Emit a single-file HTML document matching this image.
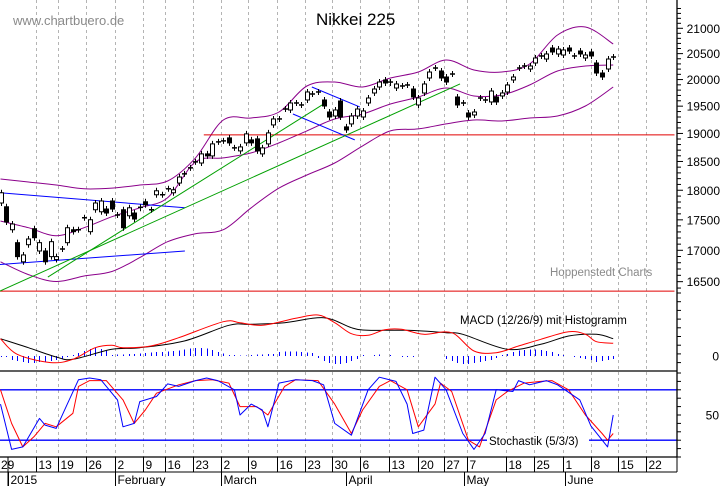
<!DOCTYPE html>
<html><head><meta charset="utf-8"><style>
html,body{margin:0;padding:0;background:#fff;}
svg{display:block;font-family:"Liberation Sans",sans-serif;}
</style></head><body>
<svg id="chart" width="723" height="486" viewBox="0 0 723 486" xmlns="http://www.w3.org/2000/svg">
<rect x="0" y="0" width="723" height="486" fill="#fff"/>
<g id="grid"></g>
<g id="price"></g>
<g id="macd"></g>
<g id="stoch"></g>
<g id="axes"></g>
<text x="13" y="25" font-size="13" fill="#8a8a8a">www.chartbuero.de</text>
<text x="316" y="25" font-size="17" fill="#000">Nikkei 225</text>
<text x="550" y="276" font-size="11.5" fill="#8a8a8a">Hoppenstedt Charts</text>
<text x="460" y="324" font-size="11.5" fill="#000">MACD (12/26/9) mit Histogramm</text>
<rect x="487" y="433" width="102" height="14" fill="#fff"/>
<text x="489" y="445" font-size="11.5" fill="#000">Stochastik (5/3/3)</text>
</svg>
<script>
const openP=[17783,17719,17336,17124,16815,17091,17353,16989,16989,16898,
16851,17021,17124,17336,17336,17535,17304,17669,17635,17681,
17817,17581,17669,17568,17614,17710,17804,17669,17923,17923,
18025,17957,18124,18283,18388,18493,18473,18634,18598,18848,
18866,18920,18741,18687,18830,18884,18902,18634,18812,19155,
19264,19447,19429,19559,19522,19615,19727,19765,19615,19392,
19318,19596,19119,19173,19318,19300,19559,19746,19859,19992,
19953,19840,19878,19897,19821,19522,19746,20030,20221,20164,
20049,20106,19671,19559,19374,19337,19652,19615,19578,19671,
19690,19765,19992,20221,20260,20202,20318,20454,20395,20610,
20493,20473,20610,20454,20551,20415,20532,20318,20125,20202,20434];
const closeP=[17957,17464,17431,16898,16925,17184,17205,17124,16815,17140,
16898,17021,17369,17304,17336,17535,17502,17783,17817,17614,
17681,17581,17369,17702,17514,17695,17753,17669,17991,17923,
18025,18008,18228,18283,18388,18493,18634,18598,18812,18848,
18866,18830,18741,18758,18992,18830,18687,18741,19010,19264,
19264,19447,19559,19559,19522,19765,19727,19765,19503,19300,
19429,19300,19064,19318,19447,19411,19652,19821,19953,19935,
19935,19916,19878,19897,19671,19652,19916,20144,20221,20030,
19953,20106,19522,19559,19300,19392,19652,19615,19783,19578,
19746,19897,20049,20221,20260,20260,20415,20454,20493,20532,
20590,20571,20551,20454,20493,20473,20454,20125,20049,20395,20434];
const bandIdx=[0,5,10,15,20,25,30,35,40,45,50,55,60,65,70,75,80,85,90,95,100,105,110];
const bandUpper=[18194,18142,18090,18025,18037,18090,18159,18563,19245,19282,19392,19878,19953,19859,20030,20144,20376,20183,20144,20298,20866,21026,20689];
const bandMiddle=[17480,17369,17238,17369,17552,17702,17872,18493,18563,18652,18830,19046,19264,19355,19540,19671,19840,19690,19708,19897,20164,20260,20279];
const bandLower=[16815,16612,16502,16589,16660,16882,17140,17271,17336,17702,18037,18263,18473,18776,19046,19082,19173,19245,19227,19282,19318,19503,19859];
const macdIdx=[0,3,9,13,17,20,22,27,32,40,43,47,53,57,60,63,66,69,72,76,81,85,89,93,97,102,105,107,110];
const macdVal=[173,17,-66,-33,83,107,83,100,183,343,333,307,377,410,333,223,207,263,267,217,233,50,33,100,167,243,217,143,127];
const signalIdx=[0,5,10,13,20,25,33,41,45,51,58,63,66,73,80,83,91,97,102,107,110];
const signalVal=[173,83,-10,-33,67,83,150,307,317,333,383,283,257,257,233,217,67,117,200,217,173];
const histVal=[-10,-10,-40,-50,-60,-70,-70,-60,-60,-50,
-40,-30,-10,10,30,50,70,80,70,60,
10,15,15,20,20,25,30,35,40,40,
45,50,55,65,75,80,80,75,60,40,
25,10,10,5,5,10,15,15,20,20,
40,45,45,45,40,35,30,-20,-50,-70,
-80,-80,-70,-50,-30,10,0,10,15,0,
10,0,-10,-10,-10,0,0,0,0,0,
-30,-50,-70,-80,-80,-70,-60,-50,-40,-20,
10,20,40,55,60,65,65,60,50,40,
20,10,0,-10,-20,-30,-40,-60,-50,-40,-30];
const kIdx=[0,2,4,7,8,10,12,14,16,18,21,22,24,25,28,30,32,35,37,39,42,43,45,47,48,50,53,56,58,60,63,66,68,71,73,74,76,78,80,83,85,87,89,92,93,95,98,100,104,106,109,110];
const kVal=[63,9,12,46,38,34,63,92,94,92,68,36,40,66,72,87,84,91,94,91,80,50,63,56,36,88,92,91,86,40,26,80,95,90,63,28,32,95,80,28,9,28,80,78,91,86,91,86,68,37,12,50];
const dIdx=[0,2,4,6,8,10,13,14,16,19,22,24,26,28,32,35,38,41,43,46,48,51,53,57,60,63,65,68,70,73,75,78,79,81,84,86,89,91,94,97,99,102,105,108,109,110];
const dVal=[80,40,12,24,40,36,52,84,91,91,68,40,56,76,86,91,92,88,60,60,50,84,92,91,63,28,56,84,91,80,36,63,88,78,20,12,68,78,88,90,91,80,50,28,20,28];
const priceTicks=[21000,20500,20000,19500,19000,18500,18000,17500,17000,16500];
const stochTicks=[50];
const macdTicks=[0];
const dateLabels=["29","13","19","26","2","9","16","23","2","9","16","23","30","6","13","20","27","7","18","25","1","8","15","22"];
const monthLabels=["2015","February","March","April","May","June"];
const monthIdx=[1.3,20.6,39.6,62,83.2,101.3];
const gridIdx=[6.4,10.3,15.3,20.6,25.6,29.5,34.6,39.6,44.4,49.6,54.7,59.5,64.6,69.7,74.9,79.6,83.7,90.7,95.8,101,106,110.9,115.9];
const trendLines=[
 {name:'support-line-bottom',c:'#e00000',p:[-1,16353,121,16353]},
 {name:'support-line-19000',c:'#e00000',p:[36.5,18974,121,18974]},
 {name:'channel-upper-left',c:'#0000ff',p:[-0.1,17957,33.1,17702]},
 {name:'channel-lower-left',c:'#0000ff',p:[-0.1,16771,33.1,16989]},
 {name:'channel-desc-top',c:'#0000ff',p:[55.9,19859,64.5,19485]},
 {name:'channel-desc-bottom',c:'#0000ff',p:[52.5,19355,63.6,18884]},
 {name:'trend-green-steep',c:'#00a000',p:[8.5,16573,58.6,19578]},
 {name:'trend-green-long',c:'#00a000',p:[-0.1,16353,82.5,19916]}
];

const NS='http://www.w3.org/2000/svg';
const RIGHT=677;
function X(i){return 0.5+5.57*i;}
function PY(p){return 28.3+1050.6*Math.log(21000/p);}
function MY(v){return 356-v*0.1;}
function SY(v){return 457-v*0.84;}
function mk(parent,tag,attrs){const e=document.createElementNS(NS,tag);for(const k in attrs)e.setAttribute(k,attrs[k]);parent.appendChild(e);return e;}
const G=id=>document.getElementById(id);

const defs=mk(G('chart'),'defs',{});
const cp=mk(defs,'clipPath',{id:'pc'});mk(cp,'rect',{x:0,y:0,width:RIGHT,height:292});
const cm=mk(defs,'clipPath',{id:'mc'});mk(cm,'rect',{x:0,y:292,width:RIGHT,height:79});
const cs=mk(defs,'clipPath',{id:'sc'});mk(cs,'rect',{x:0,y:371,width:RIGHT,height:86});
G('price').setAttribute('clip-path','url(#pc)');
G('macd').setAttribute('clip-path','url(#mc)');
G('stoch').setAttribute('clip-path','url(#sc)');

gridIdx.forEach(g=>{const x=Math.round(X(g))+0.5;
 const l=mk(G('grid'),'line',{x1:x,y1:0,x2:x,y2:457,stroke:'#b4b4b4','stroke-width':1,'stroke-dasharray':'3,3'});
 
 
});

function smoothPath(pts){
 let d='M'+pts[0][0].toFixed(1)+','+pts[0][1].toFixed(1);
 for(let k=0;k<pts.length-1;k++){
  const p0=pts[Math.max(0,k-1)],p1=pts[k],p2=pts[k+1],p3=pts[Math.min(pts.length-1,k+2)];
  const c1=[p1[0]+(p2[0]-p0[0])/6,p1[1]+(p2[1]-p0[1])/6];
  const c2=[p2[0]-(p3[0]-p1[0])/6,p2[1]-(p3[1]-p1[1])/6];
  d+=' C'+c1[0].toFixed(1)+','+c1[1].toFixed(1)+' '+c2[0].toFixed(1)+','+c2[1].toFixed(1)+' '+p2[0].toFixed(1)+','+p2[1].toFixed(1);
 }
 return d;
}
function curve(parent,idx,vals,yf,color,name,smooth){
 const pts=idx.map((d,k)=>[X(d),yf(vals[k])]);
 let p;
 if(smooth){p=mk(parent,'path',{d:smoothPath(pts),fill:'none',stroke:color,'stroke-width':1});}
 else{p=mk(parent,'polyline',{points:pts.map(q=>q[0].toFixed(1)+','+q[1].toFixed(1)).join(' '),fill:'none',stroke:color,'stroke-width':1,'stroke-linejoin':'round'});}
 
 
}
curve(G('price'),bandIdx,bandUpper,PY,'#8b008b','bollinger-upper',true);
curve(G('price'),bandIdx,bandMiddle,PY,'#8b008b','bollinger-middle',true);
curve(G('price'),bandIdx,bandLower,PY,'#8b008b','bollinger-lower',true);

trendLines.forEach(t=>{
 const l=mk(G('price'),'line',{x1:X(t.p[0]),y1:PY(t.p[1]),x2:X(t.p[2]),y2:PY(t.p[3]),stroke:t.c,'stroke-width':1});
 
 
});

openP.forEach((o,i)=>{
 const c=closeP[i];const x=Math.round(X(i))+0.5;
 const yo=PY(o),yc=PY(c);const top=Math.min(yo,yc),bot=Math.max(yo,yc);
 const g=mk(G('price'),'g',{});
 
 
 mk(g,'line',{x1:x,y1:top-3,x2:x,y2:bot+3,stroke:'#000','stroke-width':1});
 if(bot-top<1.5){
  mk(g,'line',{x1:x-2.5,y1:top,x2:x+2.5,y2:top,stroke:'#000','stroke-width':1.5});
 }else{
  mk(g,'rect',{x:x-2,y:top,width:4,height:bot-top,fill:c>=o?'#fff':'#000',stroke:'#000','stroke-width':1});
 }
});

histVal.forEach((v,i)=>{
 const x=Math.round(X(i))+0.5;
 const l=mk(G('macd'),'line',{x1:x,y1:MY(0),x2:x,y2:MY(v),stroke:'#0000ff','stroke-width':1});
 
 
});
curve(G('macd'),signalIdx,signalVal,MY,'#000','macd-signal-line',true);
curve(G('macd'),macdIdx,macdVal,MY,'#ff0000','macd-line',true);

[80,20].forEach(v=>{
 const l=mk(G('stoch'),'line',{x1:0,y1:SY(v),x2:RIGHT,y2:SY(v),stroke:'#0000ff','stroke-width':1.3});
 
 
});
curve(G('stoch'),dIdx,dVal,SY,'#ff0000','stoch-d-line',false);
curve(G('stoch'),kIdx,kVal,SY,'#0000ff','stoch-k-line',false);

const A=G('axes');
function ln(x1,y1,x2,y2,c,w,name){const l=mk(A,'line',{x1,y1,x2,y2,stroke:c,'stroke-width':w||1});return l;}
ln(RIGHT,0,RIGHT,457,'#000',1.3,'right-axis-line');
ln(0,371,RIGHT,371,'#000',1.3,'panel-separator');
ln(0,457,RIGHT,457,'#000',1.3,'date-axis-line');
ln(0,472,RIGHT,472,'#000',1,'month-row-line');
for(let p=16300;p<=21400;p+=100){const y=PY(p);if(y<0||y>291)continue;ln(RIGHT,y,RIGHT+(p%500===0?6:4),y,'#000',1,'price-tick');}
for(let y=293;y<371;y+=8.7)ln(RIGHT,y,RIGHT+4,y,'#000',1,'macd-tick');
for(let v=0;v<=100;v+=10)ln(RIGHT,SY(v),RIGHT+4,SY(v),'#000',1,'stoch-tick');
priceTicks.forEach(p=>{const t=mk(A,'text',{x:720,y:PY(p)+4.5,'font-size':12,'text-anchor':'end',fill:'#000'});t.textContent=p;
 });
macdTicks.forEach(v=>{const t=mk(A,'text',{x:719,y:MY(v)+4.5,'font-size':12,'text-anchor':'end',fill:'#000'});t.textContent=v;
 });
stochTicks.forEach(v=>{const t=mk(A,'text',{x:719,y:SY(v)+4.5,'font-size':12,'text-anchor':'end',fill:'#000'});t.textContent=v;
 });
ln(8,457,8,486,'#000',1,'date-separator');
dateLabels.forEach((s,k)=>{
 const x=k===0?0:Math.round(X(gridIdx[k-1]))+0.5;
 if(k>0)ln(x,457,x,472,'#000',1,'date-separator');
 const t=mk(A,'text',{x:(k===0?1:x+2),y:469,'font-size':12,fill:'#000'});t.textContent=s;
 
});
ln(RIGHT,457,RIGHT,472,'#000',1,'date-separator');
monthLabels.forEach((s,k)=>{
 const x=k===0?8.5:Math.round(X(monthIdx[k]))+0.5;
 ln(x,472,x,486,'#000',1,'month-separator');
 const t=mk(A,'text',{x:x+2,y:484,'font-size':12,fill:'#000'});t.textContent=s;
 
});
</script>
</body></html>
